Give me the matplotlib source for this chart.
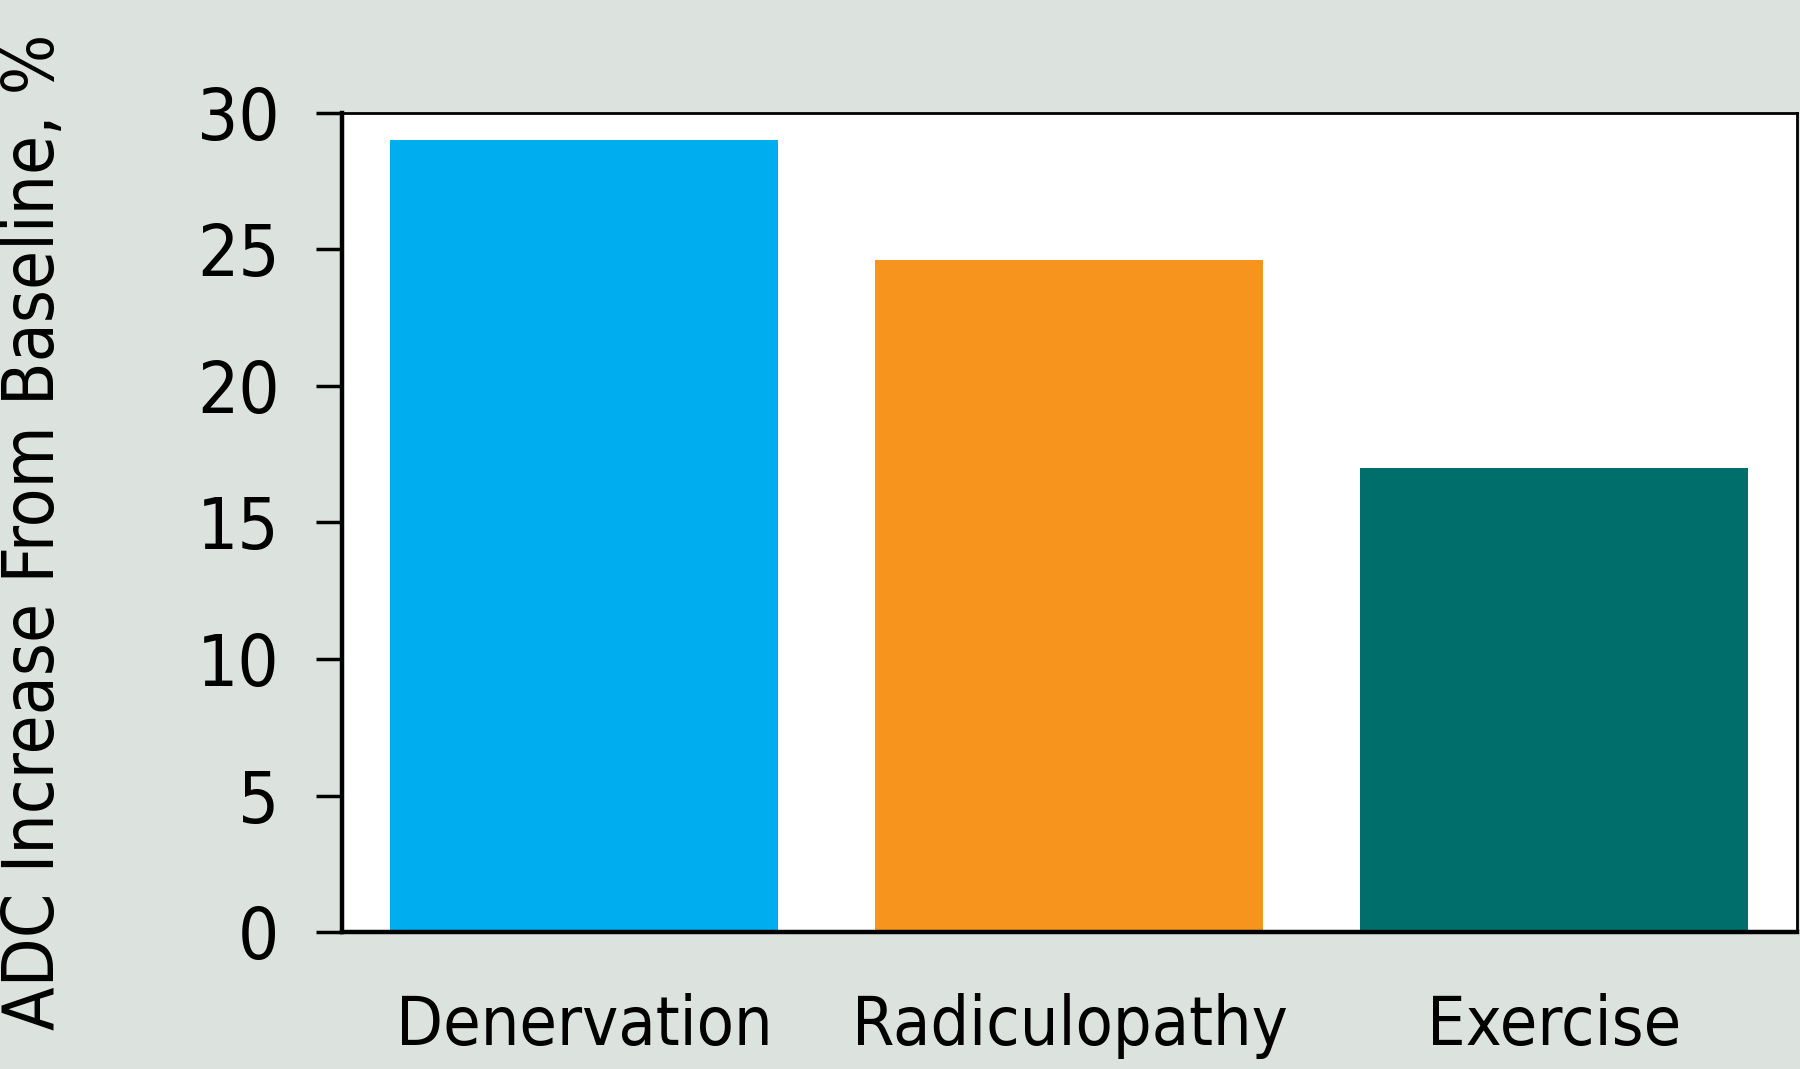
import matplotlib.pyplot as plt

# dados
categorias = ["Denervation", "Radiculopathy", "Exercise"]
valores = [29.0, 24.6, 17.0]
cores = ["#00AEEF", "#F7941E", "#006F6B"]
yticks = [0, 5, 10, 15, 20, 25, 30]

plt.rcParams["font.family"] = ["DejaVu Sans"]
plt.rcParams["font.stretch"] = "condensed"

fig = plt.figure(figsize=(18, 10.69), dpi=100)
fig.patch.set_facecolor("#DCE2DE")
ax = fig.add_axes([0.19, 0.128, 0.8083, 0.7665])
ax.set_facecolor("white")

ax.bar(range(len(categorias)), valores, width=0.8, color=cores)
ax.set_xlim(-0.5, 2.5)
ax.set_ylim(0, 30)
ax.set_yticks(yticks)
ax.set_xticks(range(len(categorias)))
ax.set_xticklabels(categorias)

ax.tick_params(axis="y", length=19, width=2.5, pad=26, labelsize=52)
ax.tick_params(axis="x", length=0, pad=44, labelsize=49)

for lado in ["left", "bottom"]:
    ax.spines[lado].set_linewidth(3.2)
for lado in ["top", "right"]:
    ax.spines[lado].set_linewidth(2)

fig.text(0.0, 1 - 1030 / 1069, "ADC Increase From Baseline, %", rotation=90,
         ha="left", va="bottom", fontsize=51)

plt.savefig("out.png", dpi=100, facecolor=fig.get_facecolor())
